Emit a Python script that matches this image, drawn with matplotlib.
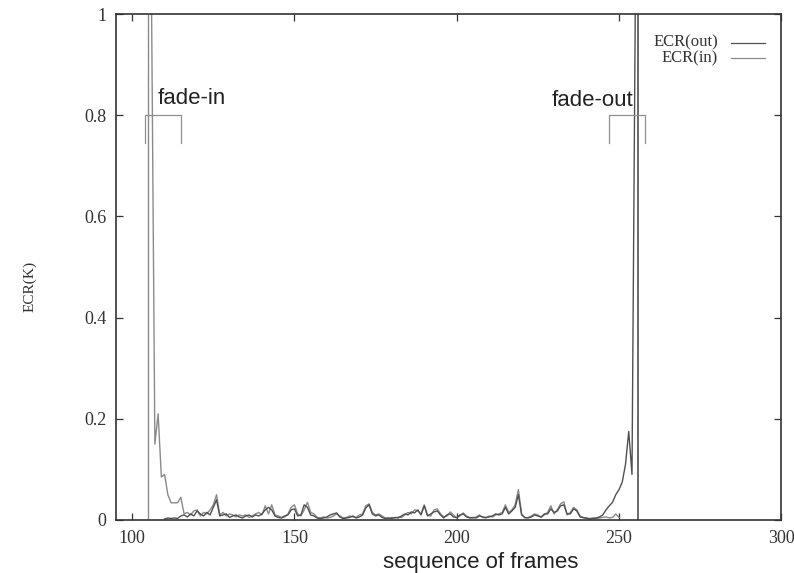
import numpy as np
import matplotlib
matplotlib.use("Agg")
import matplotlib.pyplot as plt
from matplotlib.lines import Line2D

# ECR(in): decays after the fade-in, noise afterwards
in_start = 106
ecr_in = [1.0, 0.15, 0.21, 0.085, 0.09, 0.05, 0.034, 0.034, 0.034, 0.045,
          0.012, 0.015, 0.01, 0.018, 0.02, 0.008, 0.015, 0.012, 0.02, 0.03,
          0.05, 0.01, 0.015, 0.008, 0.012, 0.01, 0.006, 0.01, 0.008, 0.01,
          0.005, 0.008, 0.012, 0.015, 0.01, 0.028, 0.012, 0.03, 0.01, 0.008,
          0.005, 0.006, 0.012, 0.025, 0.03, 0.012, 0.008, 0.02, 0.035, 0.015,
          0.012, 0.005, 0.004, 0.006, 0.004, 0.005, 0.008, 0.012, 0.008, 0.004,
          0.005, 0.008, 0.006, 0.005, 0.01, 0.012, 0.028, 0.032, 0.015, 0.01,
          0.012, 0.008, 0.004, 0.003, 0.005, 0.004, 0.006, 0.005, 0.01, 0.015,
          0.012, 0.02, 0.018, 0.012, 0.03, 0.01, 0.008, 0.02, 0.022, 0.012,
          0.006, 0.008, 0.016, 0.01, 0.004, 0.008, 0.014, 0.008, 0.005, 0.004,
          0.006, 0.01, 0.005, 0.004, 0.008, 0.006, 0.01, 0.012, 0.015, 0.03,
          0.015, 0.02, 0.03, 0.06, 0.012, 0.004, 0.005, 0.008, 0.012, 0.01,
          0.005, 0.01, 0.015, 0.028, 0.012, 0.02, 0.032, 0.036, 0.01, 0.015,
          0.025, 0.02, 0.008, 0.004, 0.003, 0.003, 0.004, 0.003, 0.004, 0.005,
          0.006, 0.004, 0.005, 0.012, 0.005]

# ECR(out): noise, then rises into the fade-out
out_start = 110
ecr_out = [0.002, 0.004, 0.003, 0.004, 0.003, 0.008, 0.01, 0.006, 0.012, 0.008,
           0.018, 0.012, 0.008, 0.015, 0.01, 0.025, 0.04, 0.008, 0.01, 0.012,
           0.005, 0.008, 0.01, 0.006, 0.004, 0.008, 0.01, 0.006, 0.01, 0.008,
           0.012, 0.02, 0.025, 0.02, 0.008, 0.005, 0.004, 0.008, 0.01, 0.02,
           0.022, 0.008, 0.01, 0.03, 0.025, 0.01, 0.008, 0.004, 0.003, 0.004,
           0.006, 0.01, 0.012, 0.014, 0.006, 0.003, 0.004, 0.005, 0.008, 0.004,
           0.006, 0.01, 0.024, 0.03, 0.012, 0.008, 0.01, 0.005, 0.003, 0.004,
           0.003, 0.005, 0.004, 0.008, 0.012, 0.01, 0.016, 0.014, 0.02, 0.01,
           0.028, 0.008, 0.012, 0.016, 0.018, 0.01, 0.004, 0.01, 0.012, 0.006,
           0.005, 0.01, 0.012, 0.006, 0.004, 0.005, 0.004, 0.008, 0.006, 0.005,
           0.006, 0.008, 0.012, 0.01, 0.012, 0.025, 0.012, 0.018, 0.025, 0.05,
           0.01, 0.005, 0.004, 0.006, 0.01, 0.008, 0.006, 0.012, 0.012, 0.022,
           0.015, 0.018, 0.028, 0.03, 0.012, 0.012, 0.022, 0.018, 0.006, 0.005,
           0.004, 0.002, 0.003, 0.004, 0.006, 0.01, 0.02, 0.028, 0.035, 0.05,
           0.06, 0.075, 0.11, 0.175, 0.09, 1.0]

# first / last frame of the sequence (full-height jumps)
cut_frames = [105, 256]

fade_in_span = (104, 115)
fade_out_span = (247, 258)
bracket_y, bracket_leg = 0.8, 0.745

frames_in = np.arange(in_start, in_start + len(ecr_in))
frames_out = np.arange(out_start, out_start + len(ecr_out))

fig = plt.figure(figsize=(7.94, 5.73), dpi=100)
ax = fig.add_axes([0.146, 0.0925, 0.838, 0.883])

c_out = "#505050"
c_in = "#8a8a8a"

ax.plot(frames_in, ecr_in, color=c_in, lw=1.0)
ax.plot(frames_out, ecr_out, color=c_out, lw=1.0)
ax.vlines(cut_frames[0], 0, 1, color=c_in, lw=1.0)
ax.vlines(cut_frames[1], 0, 1, color=c_out, lw=1.2)

# fade brackets
for (a, b) in (fade_in_span, fade_out_span):
    ax.plot([a, a, b, b], [bracket_leg, bracket_y, bracket_y, bracket_leg],
            color="#909090", lw=0.9)

ax.text(108, 0.834, "fade-in", fontsize=16, family="Liberation Sans",
        ha="left", va="center", color="#222222")
ax.text(254.3, 0.83, "fade-out", fontsize=16, family="Liberation Sans",
        ha="right", va="center", color="#222222")

ax.set_xlim(95, 300)
ax.set_ylim(0, 1)
ax.set_xticks([100, 150, 200, 250, 300])
ax.set_yticks([0, 0.2, 0.4, 0.6, 0.8, 1])
ax.set_yticklabels(["0", "0.2", "0.4", "0.6", "0.8", "1"])
ax.tick_params(direction="in", length=5, width=0.9, top=True, right=True,
               labelsize=13, colors="#333333", pad=7)
for lab in ax.get_xticklabels() + ax.get_yticklabels():
    lab.set_family("Liberation Serif")
for s in ax.spines.values():
    s.set_linewidth(1.2)
    s.set_color("#333333")

fig.text(0.605, 0.009, "sequence of frames", fontsize=16,
         family="Liberation Sans", ha="center", va="baseline", color="#222222")
fig.text(0.038, 0.5, "ECR(K)", rotation=90, fontsize=11,
         family="Liberation Serif", ha="center", va="center", color="#333333")

# gnuplot style key
for i, (name, col) in enumerate((("ECR(out)", c_out), ("ECR(in)", c_in))):
    y = 0.943 - i * 0.03
    ax.text(0.905, y, name, transform=ax.transAxes, ha="right", va="center",
            fontsize=12, family="Liberation Serif", color="#333333")
    ax.add_line(Line2D([0.925, 0.975], [y, y], transform=ax.transAxes,
                       color=col, lw=0.9))

fig.savefig("out.png", dpi=100)
